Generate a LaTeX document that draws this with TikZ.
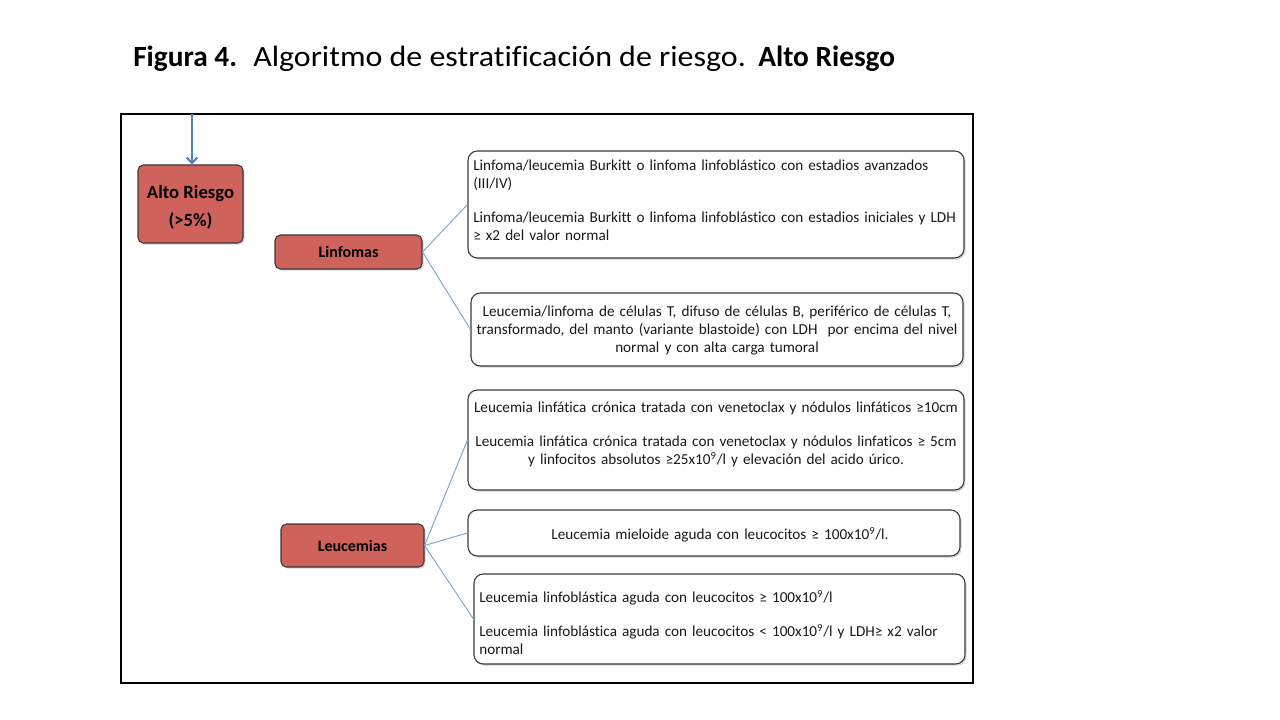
\documentclass[tikz,border=0pt]{standalone}
\usepackage{fontspec}
\setmainfont{Carlito}[Ligatures={NoCommon}]
\newfontfamily\titlereg{Carlito}[Ligatures={NoCommon},FakeStretch=1.09]
\usetikzlibrary{shadows,arrows.meta}
\definecolor{redfill}{HTML}{CF625B}
\definecolor{linkblue}{HTML}{7BA3D4}
\definecolor{arrowblue}{HTML}{4F81BD}
\definecolor{edge}{HTML}{3A3A3A}
\tikzset{
  redbox/.style={draw=edge, line width=0.8pt, fill=redfill, rounded corners=4pt,
    font=\bfseries\fontsize{12}{14}\selectfont, text=black, inner sep=2pt,
    drop shadow={opacity=0.35, shadow xshift=1.2pt, shadow yshift=-1.2pt}},
  whitebox/.style={draw=edge, line width=0.8pt, fill=white, rounded corners=7pt,
    drop shadow={opacity=0.35, shadow xshift=1.2pt, shadow yshift=-1.2pt}},
  boxtext/.style={font=\fontsize{11.4}{13.5}\selectfont, text=black!90, inner sep=0pt, text width=372pt},
  link/.style={draw=linkblue, line width=0.7pt},
}
\frenchspacing
\begin{document}
\begin{tikzpicture}[x=0.75pt,y=-0.75pt]
\useasboundingbox (0,0) rectangle (1280,720);
% title
\node[anchor=base west, inner sep=0pt, font=\fontsize{22}{26}\selectfont] (title) at (133,67)
  {\makebox[90pt][l]{\textbf{Figura 4.}}\makebox[378.75pt][l]{\titlereg Algoritmo de estratificación de riesgo.}\textbf{Alto Riesgo}};
% frame
\draw[line width=0.8pt] (121,114) rectangle (973,683);
% red boxes
\node[redbox, minimum width=78.75pt, minimum height=58.5pt] (alto) at (190.5,204) {};
\node[inner sep=0pt, align=center, font=\bfseries\fontsize{14}{20.5}\selectfont] (altot) at (190.5,207.5) {Alto Riesgo\\(>5\%)};
\coordinate (top) at (192,114.5);
\draw[arrowblue, line width=1.6pt, -{Straight Barb[length=4pt,width=8pt]}] (top) -- (alto.north -| top);
\node[redbox, minimum width=110.25pt, minimum height=25.5pt] (linf) at (348.5,252) {Linfomas};
\node[redbox, minimum width=107.25pt, minimum height=32.25pt] (leuc) at (352.5,545.5) {Leucemias};
% white boxes
\node[whitebox, minimum width=372pt, minimum height=80.25pt] (l1) at (716,204.5) {};
\node[boxtext, anchor=west, align=left] (l1t) at (473,200)
  {Linfoma/leucemia Burkitt o linfoma linfoblástico con estadios avanzados\\(III/IV)\\[12pt]
   Linfoma/leucemia Burkitt o linfoma linfoblástico con estadios iniciales y LDH\\≥ x2 del valor normal};
\node[whitebox, minimum width=369pt, minimum height=54.75pt] (l2) at (717,329.5) {};
\node[boxtext, align=center] (l2t) at (717,331)
  {Leucemia/linfoma de células T, difuso de células B, periférico de células T,\\transformado, del manto (variante blastoide) con LDH~ por encima del nivel\\normal y con alta carga tumoral};
\node[whitebox, minimum width=372pt, minimum height=75pt] (u1) at (716,440) {};
\node[boxtext, align=center] (u1t) at (716,434.5)
  {Leucemia linfática crónica tratada con venetoclax y nódulos linfáticos ≥10cm\\[12pt]
   Leucemia linfática crónica tratada con venetoclax y nódulos linfaticos ≥ 5cm\\y linfocitos absolutos ≥25x10\textsuperscript{9}/l y elevación del acido úrico.};
\node[whitebox, minimum width=369pt, minimum height=34.5pt] (u2) at (714,533) {};
\node[boxtext, align=center] (u2t) at (720,535)
  {Leucemia mieloide aguda con leucocitos ≥ 100x10\textsuperscript{9}/l.};
\node[whitebox, minimum width=368.25pt, minimum height=67.5pt] (u3) at (719.5,619) {};
\node[boxtext, anchor=west, align=left] (u3t) at (479,622.5)
  {Leucemia linfoblástica aguda con leucocitos ≥ 100x10\textsuperscript{9}/l\\[12pt]
   Leucemia linfoblástica aguda con leucocitos < 100x10\textsuperscript{9}/l y LDH≥ x2 valor\\normal};
% connectors
\draw[link] (linf.east) -- (l1.west);
\draw[link] (linf.east) -- (l2.west);
\draw[link] (leuc.east) -- (u1.west);
\draw[link] (leuc.east) -- (u2.west);
\draw[link] (leuc.east) -- (u3.west);
\end{tikzpicture}
\end{document}
